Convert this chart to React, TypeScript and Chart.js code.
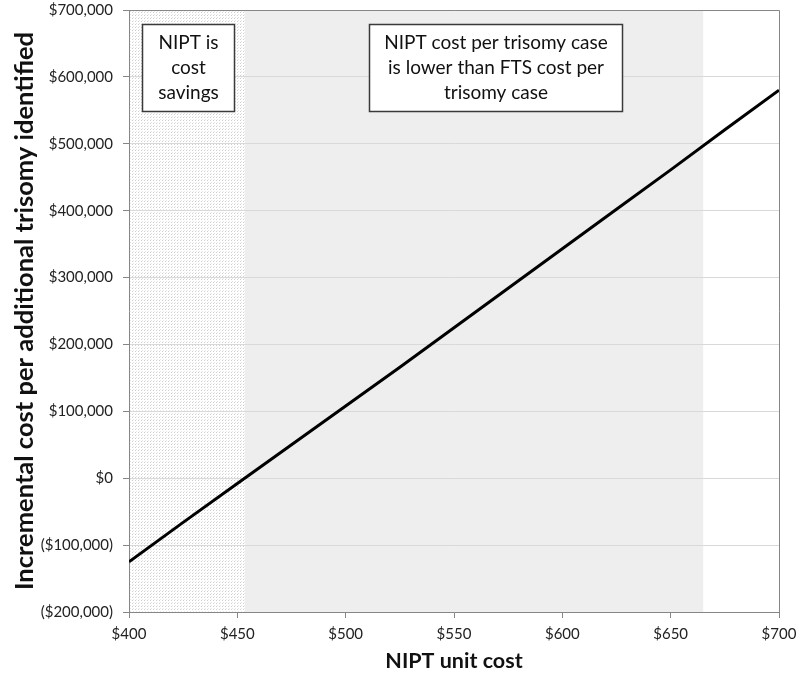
import React, { useEffect, useRef } from "react";
import { Chart, registerables } from "chart.js";

Chart.register(...registerables);

const unitCosts = [400, 425, 450, 475, 500, 525, 550, 575, 600, 625, 650, 675, 700];
const incrementalCost = [-125000, -66000, -8000, 50000, 108000, 166000, 225000, 284000, 343000, 402000, 461000, 521000, 580000];
const savingsRange = [400, 453.5];
const lowerCostRange = [453.5, 665];
const savingsLines = ["NIPT is", "cost", "savings"];
const lowerCostLines = ["NIPT cost per trisomy case", "is lower than FTS cost per", "trisomy case"];
const xTitle = "NIPT unit cost";
const yTitle = "Incremental cost per additional trisomy identified";

const FONT = "Lato, 'Open Sans', sans-serif";

function fmtMoney(v: number) {
  const s = "$" + Math.abs(v).toLocaleString("en-US");
  return v < 0 ? "(" + s + ")" : s;
}

function makeDotPattern(ctx: CanvasRenderingContext2D) {
  const c = document.createElement("canvas");
  c.width = 3;
  c.height = 3;
  const p = c.getContext("2d")!;
  p.fillStyle = "#ffffff";
  p.fillRect(0, 0, 3, 3);
  p.fillStyle = "#cfcfcf";
  p.fillRect(0, 0, 1, 1);
  p.fillStyle = "#e6e6e6";
  p.fillRect(1, 2, 1, 1);
  return ctx.createPattern(c, "repeat")!;
}

const regionsPlugin = {
  id: "regions",
  beforeDraw(chart: any) {
    const { ctx, chartArea } = chart;
    const x = chart.scales.x;
    ctx.save();
    ctx.fillStyle = "#ffffff";
    ctx.fillRect(0, 0, chart.width, chart.height);
    const a0 = x.getPixelForValue(savingsRange[0]);
    const a1 = x.getPixelForValue(savingsRange[1]);
    ctx.fillStyle = makeDotPattern(ctx);
    ctx.fillRect(a0, chartArea.top, a1 - a0, chartArea.bottom - chartArea.top);
    const b0 = x.getPixelForValue(lowerCostRange[0]);
    const b1 = x.getPixelForValue(lowerCostRange[1]);
    ctx.fillStyle = "#eeeeee";
    ctx.fillRect(b0, chartArea.top, b1 - b0, chartArea.bottom - chartArea.top);
    ctx.restore();
  },
  afterDraw(chart: any) {
    const { ctx, chartArea } = chart;
    ctx.save();
    ctx.strokeStyle = "#868686";
    ctx.lineWidth = 1;
    ctx.beginPath();
    ctx.moveTo(chartArea.left, chartArea.top + 0.5);
    ctx.lineTo(chartArea.right + 0.5, chartArea.top + 0.5);
    ctx.lineTo(chartArea.right + 0.5, chartArea.bottom);
    ctx.stroke();

    const drawBox = (l: number, t: number, r: number, b: number, lines: string[]) => {
      ctx.fillStyle = "#ffffff";
      ctx.fillRect(l, t, r - l, b - t);
      ctx.strokeStyle = "#3a3a3a";
      ctx.lineWidth = 1.5;
      ctx.strokeRect(l, t, r - l, b - t);
      ctx.fillStyle = "#111111";
      ctx.font = "19px " + FONT;
      ctx.textAlign = "center";
      ctx.textBaseline = "middle";
      const cx = (l + r) / 2;
      lines.forEach((s, i) => ctx.fillText(s, cx, 43 + i * 25));
    };
    drawBox(142.5, 24.5, 234.5, 111.5, savingsLines);
    drawBox(369.5, 24.5, 622.5, 111.5, lowerCostLines);
    ctx.restore();
  },
};

export default function App() {
  const ref = useRef<HTMLCanvasElement>(null);
  useEffect(() => {
    document.body.style.margin = "0";
    const chart = new Chart(ref.current!, {
      type: "line",
      data: {
        datasets: [
          {
            data: unitCosts.map((u, i) => ({ x: u, y: incrementalCost[i] })),
            borderColor: "#000000",
            borderWidth: 3,
            pointRadius: 0,
            tension: 0,
            fill: false,
          },
        ],
      },
      plugins: [regionsPlugin],
      options: {
        animation: false,
        responsive: false,
        maintainAspectRatio: false,
        layout: { padding: { top: 10, right: 21, left: 0, bottom: 0 } },
        plugins: { legend: { display: false }, tooltip: { enabled: false } },
        scales: {
          x: {
            type: "linear",
            min: 400,
            max: 700,
            afterFit: (s: any) => {
              s.height = 63;
              s.paddingLeft = 0;
              s.paddingRight = 0;
            },
            ticks: {
              stepSize: 50,
              color: "#222222",
              font: { family: FONT, size: 15 },
              padding: 7,
              maxRotation: 0,
              callback: (v: any) => "$" + v,
            },
            grid: { drawOnChartArea: false, tickLength: 6, color: "#868686" },
            border: { color: "#868686" },
            title: {
              display: true,
              text: xTitle,
              color: "#111111",
              font: { family: FONT, size: 21.5, weight: "bold" },
              padding: { top: 0, bottom: 1 },
            },
          },
          y: {
            type: "linear",
            min: -200000,
            max: 700000,
            afterFit: (s: any) => {
              s.width = 129;
              s.paddingTop = 0;
              s.paddingBottom = 0;
            },
            ticks: {
              stepSize: 100000,
              color: "#222222",
              font: { family: FONT, size: 15 },
              padding: 10,
              callback: (v: any) => fmtMoney(Number(v)),
            },
            grid: { color: "#d9d9d9", tickColor: "#868686", tickLength: 6 },
            border: { color: "#868686" },
            title: {
              display: true,
              text: yTitle,
              color: "#111111",
              font: { family: FONT, size: 25.5, weight: "bold" },
              padding: { top: 9, bottom: 0 },
            },
          },
        },
      },
    } as any);
    return () => chart.destroy();
  }, []);
  return (
    <div style={{ width: 800, height: 675, position: "absolute", left: 0, top: 0 }}>
      <canvas ref={ref} width={800} height={675} style={{ width: 800, height: 675 }} />
    </div>
  );
}
